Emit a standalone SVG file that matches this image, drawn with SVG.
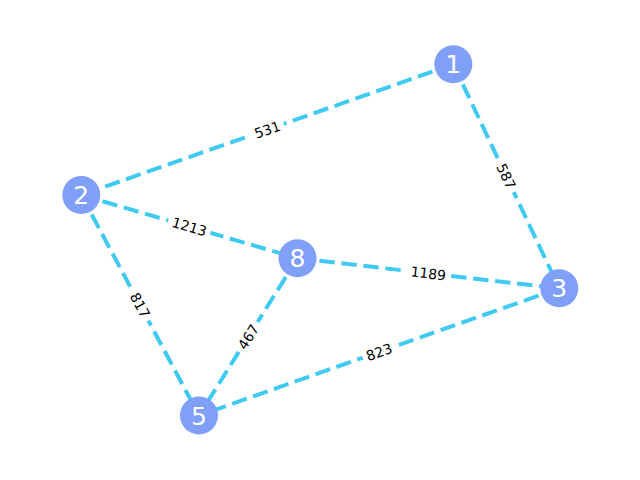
<svg xmlns="http://www.w3.org/2000/svg" width="640" height="480" viewBox="0 0 640 480">
<style>
.edge{stroke:#3fcaf2;stroke-width:4;stroke-dasharray:15.4 6.7;fill:none}
.lbg{fill:#ffffff}
.lbl{font-family:"DejaVu Sans",sans-serif;font-size:13.9px;fill:#000;text-anchor:middle}
.node circle{fill:#7f9ff8}
.node text{font-family:"DejaVu Sans",sans-serif;font-size:25px;fill:#fff;text-anchor:middle}
</style>
<rect width="640" height="480" fill="#fff"/>
<g id="connectors">
<line class="edge" x1="453.3" y1="64.3" x2="81.3" y2="195"/>
<line class="edge" x1="453.3" y1="64.3" x2="559.3" y2="288.3"/>
<line class="edge" x1="81.3" y1="195" x2="297.5" y2="258.3"/>
<line class="edge" x1="81.3" y1="195" x2="199" y2="415.5"/>
<line class="edge" x1="297.5" y1="258.3" x2="559.3" y2="288.3"/>
<line class="edge" x1="297.5" y1="258.3" x2="199" y2="415.5"/>
<line class="edge" x1="559.3" y1="288.3" x2="199" y2="415.5"/>
</g>
<g id="edge-labels">
<g transform="translate(267.3 129.65) rotate(-19.36)"><rect class="lbg" x="-17.5" y="-9" width="35" height="18" rx="3"/><text class="lbl" y="5.1">531</text></g>
<g transform="translate(506.3 176.3) rotate(64.67)"><rect class="lbg" x="-17.5" y="-9" width="35" height="18" rx="3"/><text class="lbl" y="5.1">587</text></g>
<g transform="translate(189.4 226.65) rotate(16.32)"><rect class="lbg" x="-22" y="-9" width="44" height="18" rx="3"/><text class="lbl" y="5.1">1213</text></g>
<g transform="translate(140.15 305.25) rotate(61.9)"><rect class="lbg" x="-17.5" y="-9" width="35" height="18" rx="3"/><text class="lbl" y="5.1">817</text></g>
<g transform="translate(428.4 273.3) rotate(6.54)"><rect class="lbg" x="-22" y="-9" width="44" height="18" rx="3"/><text class="lbl" y="5.1">1189</text></g>
<g transform="translate(248.25 336.9) rotate(-57.93)"><rect class="lbg" x="-17.5" y="-9" width="35" height="18" rx="3"/><text class="lbl" y="5.1">467</text></g>
<g transform="translate(379.15 351.9) rotate(-19.44)"><rect class="lbg" x="-17.5" y="-9" width="35" height="18" rx="3"/><text class="lbl" y="5.1">823</text></g>
</g>
<g id="node-1" class="node"><circle cx="453.3" cy="64.3" r="19"/><text x="453.3" y="73.3">1</text></g>
<g id="node-2" class="node"><circle cx="81.3" cy="195" r="19"/><text x="81.3" y="204">2</text></g>
<g id="node-8" class="node"><circle cx="297.5" cy="258.3" r="19"/><text x="297.5" y="267.3">8</text></g>
<g id="node-3" class="node"><circle cx="559.3" cy="288.3" r="19"/><text x="559.3" y="297.3">3</text></g>
<g id="node-5" class="node"><circle cx="199" cy="415.5" r="19"/><text x="199" y="424.5">5</text></g>
</svg>
